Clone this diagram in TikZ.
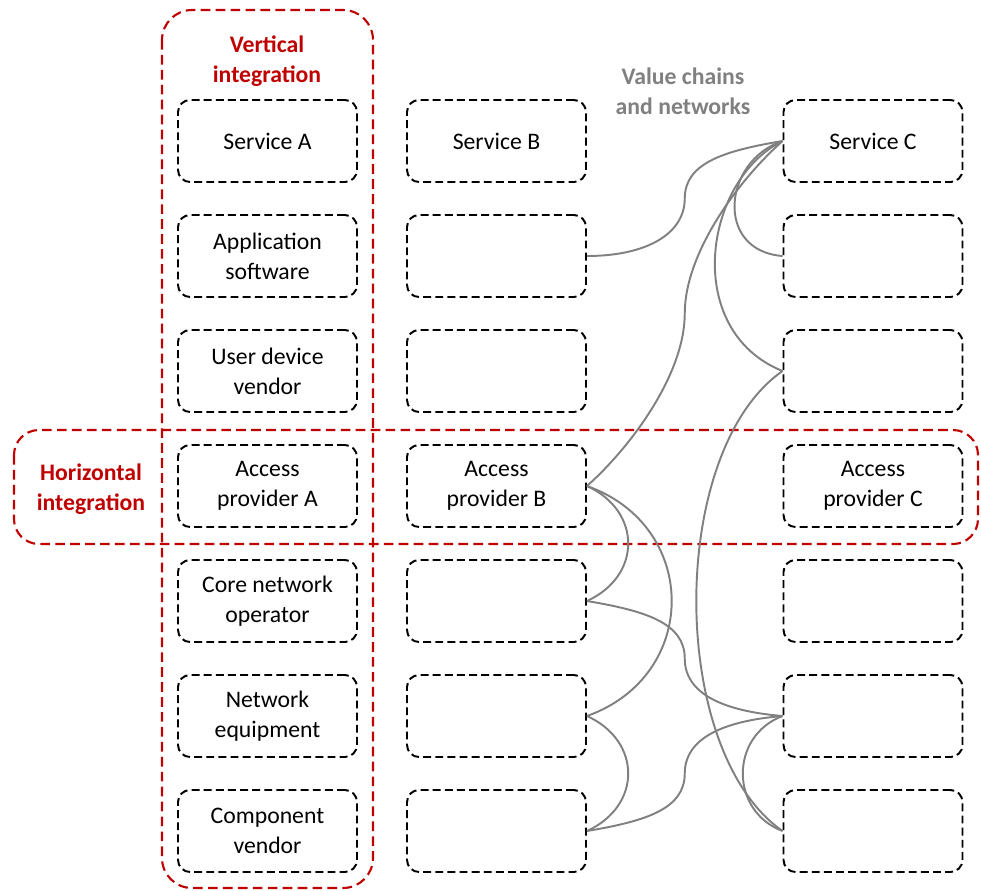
\documentclass[tikz,border=0pt]{standalone}
\usepackage{fontspec}
\setmainfont{Carlito}
\usetikzlibrary{calc}
\definecolor{intred}{RGB}{192,0,0}
\definecolor{chaingray}{RGB}{128,128,128}

\begin{document}
\begin{tikzpicture}[x=0.02cm,y=-0.02cm,
  layer/.style={draw,dash pattern=on 4.5pt off 2.4pt,line width=1.1pt,rounded corners=0.24cm,
    minimum width=3.58cm,minimum height=1.64cm,align=center,font=\fontsize{13.5}{17}\selectfont},
  group/.style={draw=intred,dash pattern=on 5.5pt off 3pt,line width=1.2pt},
  grouplabel/.style={text=intred,font=\fontsize{13.5}{17}\selectfont\bfseries,align=center},
  link/.style={chaingray,line width=1.1pt}]
\useasboundingbox (0,0) rectangle (981,890);
% integration frames
\draw[group,rounded corners=0.6cm] (162,10) rectangle (373,888);
\draw[group,rounded corners=0.5cm] (14,430) rectangle (978,544);
\node[grouplabel] (vint) at (267,61) {Vertical\\integration};
\node[grouplabel] (hint) at (91,489) {Horizontal\\integration};
\node[grouplabel,text=chaingray] (vcn) at (683,91) {Value chains\\and networks};
% three stacks of layers
\foreach \t [count=\i] in {Service A,{Application\\software},{User device\\vendor},{Access\\provider A},{Core network\\operator},{Network\\equipment},{Component\\vendor}}
  {\node[layer] (a\i) at (267.5,{141+(\i-1)*115}) {\t};}
\foreach \t [count=\i] in {Service B,{},{},{Access\\provider B},{},{},{}}
  {\node[layer] (b\i) at (496.5,{141+(\i-1)*115}) {\t};}
\foreach \t [count=\i] in {Service C,{},{},{Access\\provider C},{},{},{}}
  {\node[layer] (c\i) at (873,{141+(\i-1)*115}) {\t};}
% value chains
\coordinate (k1) at ($(b2.east)!.5!(c1.west)$);
\coordinate (k2) at ($(b5.east)!.5!(c6.west)$);
\coordinate (k3) at ($(b7.east)!.5!(c6.west)$);
\coordinate (k4) at ($(b4.east)!.5!(c1.west)$);
\draw[link] (b2.east) .. controls +(60,0) and +(0,35) .. (k1) .. controls +(0,-35) and +(-60,10) .. (c1.west);
\draw[link] (b4.east) .. controls +(45,-40) and +(0,60) .. (k4) .. controls +(0,-60) and +(-45,40) .. (c1.west);
\draw[link] (c1.west) .. controls +(-60,20) and +(-68,-5) .. (c2.west);
\draw[link] (c1.west) .. controls +(-80,40) and +(-100,-40) .. (c3.west);
\draw[link] (c3.west) .. controls +(-115,80) and +(-115,-80) .. (c7.west);
\draw[link] (b4.east) .. controls +(55,25) and +(55,-25) .. (b5.east);
\draw[link] (b4.east) .. controls +(113,40) and +(113,-40) .. (b6.east);
\draw[link] (b6.east) .. controls +(55,25) and +(55,-25) .. (b7.east);
\draw[link] (b5.east) .. controls +(60,10) and +(0,-35) .. (k2) .. controls +(0,35) and +(-60,-5) .. (c6.west);
\draw[link] (b7.east) .. controls +(60,-10) and +(0,35) .. (k3) .. controls +(0,-35) and +(-60,5) .. (c6.west);
\draw[link] (c6.west) .. controls +(-53,20) and +(-53,-20) .. (c7.west);
\end{tikzpicture}
\end{document}
